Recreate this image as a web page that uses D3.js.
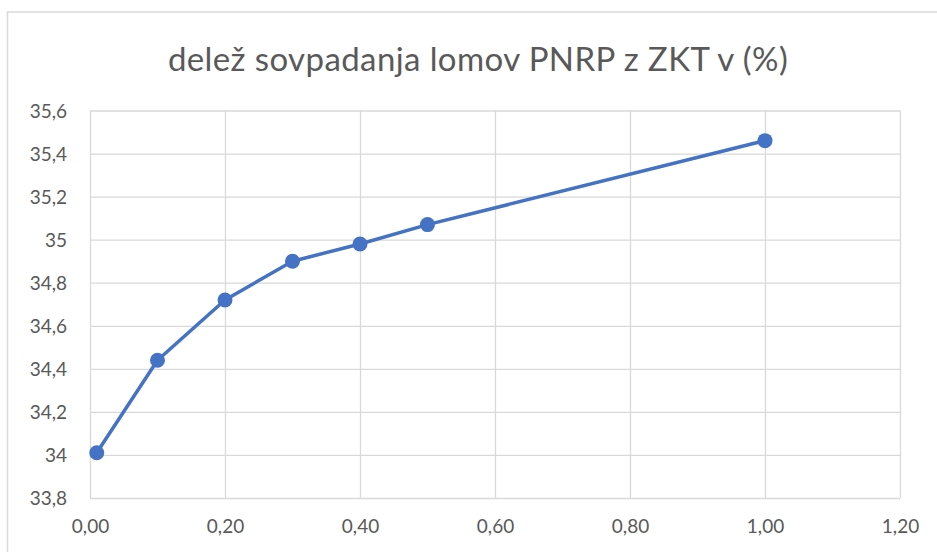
<!DOCTYPE html>
<html>
<head>
<meta charset="utf-8">
<script src="https://cdn.jsdelivr.net/npm/d3@7"></script>
<style>
  body { margin: 0; background: #fff; }
  svg text { font-family: Lato, "Open Sans", sans-serif; fill: #595959; }
</style>
</head>
<body>
<div class="chart"></div>
<script>
//
// DATA
//
const xValues = [0.01, 0.1, 0.2, 0.3, 0.4, 0.5, 1.0]
const yValues = [34.01, 34.44, 34.72, 34.9, 34.98, 35.07, 35.46]
const xTicks = [0, 0.2, 0.4, 0.6, 0.8, 1.0, 1.2]
const yTicks = [33.8, 34, 34.2, 34.4, 34.6, 34.8, 35, 35.2, 35.4, 35.6]
const title = 'delež sovpadanja lomov PNRP z ZKT v (%)'

//
// GLOBALS
//
const width = 937
const height = 552
const plot = { left: 90, right: 900, top: 110.5, bottom: 498 }
const blue = '#4472c4'
const grid = '#d9d9d9'

const svg = d3.select('.chart')
    .append('svg')
    .attr('width', width)
    .attr('height', height)

// outer chart border (only top and left visible in the crop)
svg.append('path')
    .attr('d', `M7.5,${height + 5} V12 H${width + 5}`)
    .attr('fill', 'none')
    .attr('stroke', grid)
    .attr('stroke-width', 1.5)

svg.append('text')
    .attr('x', 478)
    .attr('y', 71)
    .attr('text-anchor', 'middle')
    .style('font-size', '33px')
    .style('letter-spacing', '0.4px')
    .text(title)

const x = d3.scaleLinear().domain([0, 1.2]).range([plot.left, plot.right])
const y = d3.scaleLinear().domain([33.8, 35.6]).range([plot.bottom, plot.top])

const comma = d => d3.format('.2f')(d).replace('.', ',')
const commaY = d => String(+d.toFixed(1)).replace('.', ',')

// gridlines via axes
svg.append('g')
    .attr('transform', `translate(0,${plot.bottom})`)
    .call(d3.axisBottom(x).tickValues(xTicks).tickSize(-(plot.bottom - plot.top)).tickFormat(comma))
    .call(g => g.select('.domain').remove())
    .call(g => g.selectAll('line').attr('stroke', grid).attr('stroke-width', 1.3))
    .call(g => g.selectAll('text').attr('dy', null).attr('y', 35).style('font-size', '19px').style('fill', '#595959'))

svg.append('g')
    .attr('transform', `translate(${plot.left},0)`)
    .call(d3.axisLeft(y).tickValues(yTicks).tickSize(-(plot.right - plot.left)).tickFormat(commaY))
    .call(g => g.select('.domain').remove())
    .call(g => g.selectAll('line').attr('stroke', grid).attr('stroke-width', 1.3))
    .call(g => g.selectAll('text').attr('x', -23).attr('dy', '0.35em').style('font-size', '19px').style('fill', '#595959'))

const pts = xValues.map((v, i) => [v, yValues[i]])

svg.append('path')
    .datum(pts)
    .attr('fill', 'none')
    .attr('stroke', blue)
    .attr('stroke-width', 3.5)
    .attr('stroke-linejoin', 'round')
    .attr('d', d3.line().x(d => x(d[0])).y(d => y(d[1])))

svg.append('g')
    .selectAll('circle')
    .data(pts)
    .join('circle')
    .attr('cx', d => x(d[0]))
    .attr('cy', d => y(d[1]))
    .attr('r', 7.5)
    .attr('fill', blue)
</script>
</body>
</html>
